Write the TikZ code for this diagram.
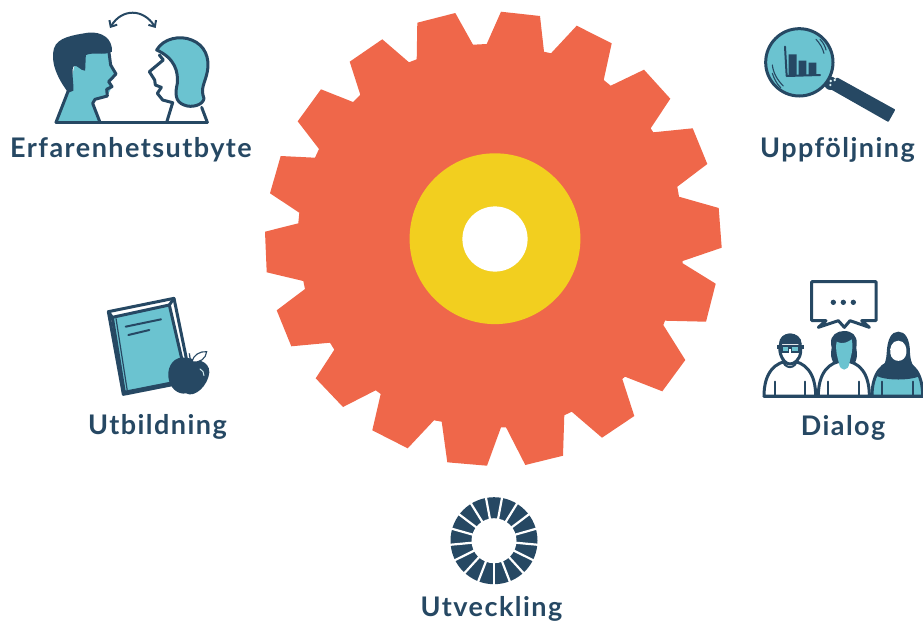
\documentclass[tikz,border=0pt]{standalone}
\usepackage{fontspec}
\usetikzlibrary{arrows.meta}
\setmainfont{Lato}[BoldFont={Lato Bold},BoldFeatures={LetterSpace=5.4}]
\definecolor{navy}{HTML}{264863}
\definecolor{teal}{HTML}{6BC3D0}
\definecolor{gearc}{HTML}{EF674A}
\definecolor{hub}{HTML}{F2CF1F}
\tikzset{
 lab/.style={anchor=base,text=navy,font=\fontsize{27}{31}\selectfont\bfseries,inner sep=0pt},
 ico/.style={draw=navy,line width=3pt,line join=round,line cap=round},
 thin ico/.style={draw=navy,line width=2pt,line join=round,line cap=round},
}
\begin{document}
\begin{tikzpicture}[x=1pt,y=-1pt]
\useasboundingbox (0,0) rectangle (923,622);
% gear
\fill[gearc] (501,11.7)--(540,16)--(544,51.7)--(551,53.3)--(576.7,25.7)--(611.7,43.3)--(603.7,80)--(610.7,85.7)--(644,69.7)--(670.3,98.7)--(650.7,128.3)--(653.3,132.3)--(692.7,128.3)--(707.3,164)--(677.3,186.7)--(679,196.7)--(718.7,208)--(721.7,247.7)--(682.7,261)--(682.7,263.3)--(715.7,283.7)--(706,321.7)--(665,320.7)--(663.3,325)--(685.3,360)--(662.3,391.3)--(625,376.7)--(622.3,379)--(634.3,416)--(602,437.7)--(571.7,411.7)--(564.3,415.3)--(563,455.7)--(525.3,465)--(506,427.3)--(501,427.3)--(487,465.7)--(447.3,462.3)--(441.7,421.7)--(434,420.3)--(407.7,448.3)--(372.3,430.3)--(380.7,394)--(375.7,390.3)--(343,407)--(315.7,378.3)--(334.3,349.7)--(330,342.7)--(291.3,346.3)--(276.7,310.3)--(305,289)--(303.3,281)--(266.7,272.3)--(265,231.7)--(298.3,223.3)--(299.3,212.7)--(270,193.3)--(280.7,156)--(315,157.7)--(319,149)--(297.7,121.3)--(321,89.3)--(353,102)--(360.3,94.7)--(349.7,61.7)--(382.3,39.3)--(409,62.3)--(416.7,59.3)--(417.3,22.7)--(455.3,13)--(473,44.7)--(486.7,44)--cycle;
\fill[hub] (495,238.7) circle (85.4);
\fill[white] (495,239) circle (32.6);
% faces
\begin{scope}[scale=1/3]
\fill[teal] (172,367)--(205,275)--(225,190)--(260,150)--(325,150)--(332,195)--(348,222)--(328,245)--(335,262)--(322,288)--(285,298)--(278,310)--(300,367)--cycle;
\draw[ico] (168,367)--(205,272) (326,150)--(332,195)--(348,222)--(326,245)--(336,260)--(320,268)--(322,288)--(285,298)--(278,310)--(300,367);
\fill[navy] (205,278) .. controls (172,235) and (150,185) .. (162,145) .. controls (172,112) and (220,105) .. (265,98) .. controls (305,94) and (338,115) .. (336,155) .. controls (310,168) and (280,155) .. (258,165) .. controls (255,180) and (258,195) .. (255,212) .. controls (240,212) and (235,195) .. (222,198) .. controls (212,205) and (222,250) .. (220,272) -- cycle;
\draw[ico,fill=teal] (470,150) .. controls (490,115) and (540,105) .. (575,120) .. controls (615,135) and (630,175) .. (622,215) .. controls (615,250) and (600,265) .. (612,295) .. controls (610,315) and (575,325) .. (552,315) .. controls (525,305) and (525,280) .. (532,250) .. controls (535,215) and (525,175) .. (470,150) -- cycle;
\draw[ico] (478,165)--(490,180)--(448,215)--(464,240)--(466,255)--(484,262)--(472,280)--(488,300)--(518,308)--(500,367);
\draw[ico] (605,322)--(622,367);
\draw[ico] (168,367)--(622,367);
\draw[draw=navy,line width=2pt,{Straight Barb[length=5pt,width=9pt]}-{Straight Barb[length=5pt,width=9pt]}] (330,84) .. controls (365,25) and (430,25) .. (467,84);
\end{scope}
% magnifier
\begin{scope}[shift={(740,10)},scale=1/3]
\fill[navy,draw=navy,line width=2pt,line join=round] (292,206)--(462,300)--(444,332)--(268,232)--cycle;
\fill[navy] (272,220) circle (20);
\draw[ico,fill=teal] (178,157) circle (101);
\fill[white!75!teal] (272,213) circle (4) (284,210) circle (4) (271,225) circle (4);
\draw[thin ico] (135,110)--(140,198)--(240,195);
\fill[navy] (146,133) rectangle (170,195) (176,152) rectangle (199,195) (206,158) rectangle (229,195);
\draw[navy,line width=1.1pt,line cap=round] (228,88) .. controls (240,100) and (248,115) .. (252,130) (240,88) .. controls (250,98) and (256,110) .. (258,120);
\draw[navy,line width=1.1pt,line cap=round] (97,165) .. controls (100,190) and (112,210) .. (130,228) (97,190) .. controls (102,205) and (110,222) .. (122,233);
\end{scope}
% dialog
\begin{scope}[shift={(750,270)},scale=1/3]
\draw[ico,fill=white] (185,35)--(378,35)--(378,152)--(335,152)--(358,172)--(300,152)--(283,172)--(265,152)--(205,172)--(228,152)--(185,152)--cycle;
\fill[navy] (250,97) circle (8) (280,97) circle (8) (310,97) circle (8);
% person 1
\draw[ico,fill=white] (42,378) .. controls (42,308) and (75,275) .. (120,272) .. controls (165,275) and (197,308) .. (197,378) -- cycle;
\draw[thin ico] (75,335)--(75,375) (165,335)--(165,375);
\draw[thin ico,fill=white] (97,265) .. controls (100,300) and (140,300) .. (142,265);
\draw[ico,fill=white] (120,195) .. controls (95,195) and (88,225) .. (90,245) .. controls (95,270) and (108,282) .. (120,282) .. controls (132,282) and (150,270) .. (152,245) .. controls (154,225) and (145,195) .. (120,195) -- cycle;
\fill[navy] (88,222) .. controls (85,180) and (155,180) .. (155,222) -- (140,222) -- (100,222) -- cycle;
\fill[navy] (80,226) rectangle (162,236);
\fill[teal] (96,230) rectangle (116,246) (125,230) rectangle (145,246);
\draw[navy,line width=1.4pt] (96,230) rectangle (116,246) (125,230) rectangle (145,246);
% person 2
\draw[ico,fill=white] (205,378) .. controls (205,308) and (237,275) .. (282,272) .. controls (327,275) and (358,308) .. (358,378) -- cycle;
\draw[thin ico] (235,335)--(235,375) (328,335)--(328,375);
\fill[navy] (250,278) .. controls (235,250) and (250,235) .. (243,222) .. controls (240,195) and (262,183) .. (282,183) .. controls (305,183) and (322,195) .. (320,222) .. controls (315,240) and (328,250) .. (315,278) -- cycle;
\fill[teal] (260,215) .. controls (280,225) and (295,215) .. (305,208) .. controls (312,240) and (300,265) .. (298,280) .. controls (295,305) and (270,305) .. (267,280) .. controls (262,260) and (255,240) .. (260,215) -- cycle;
% person 3
\draw[ico,fill=teal] (366,378) .. controls (366,308) and (398,275) .. (443,272) .. controls (488,275) and (518,308) .. (518,378) -- cycle;
\draw[thin ico] (395,335)--(395,375) (488,335)--(488,375);
\fill[navy] (380,318) .. controls (395,295) and (408,285) .. (410,250) .. controls (412,205) and (425,185) .. (445,185) .. controls (465,185) and (480,205) .. (480,250) .. controls (482,285) and (495,295) .. (510,318) .. controls (480,332) and (410,332) .. (380,318) -- cycle;
\fill[white] (445,212) .. controls (425,212) and (418,235) .. (421,250) .. controls (425,280) and (465,280) .. (469,250) .. controls (472,235) and (465,212) .. (445,212) -- cycle;
\draw[ico] (42,378)--(518,378);
\end{scope}
% book
\begin{scope}[shift={(80,285)},scale=1/3]
\draw[ico,fill=white] (85,80)--(282,40)--(333,288)--(130,328)--cycle;
\draw[ico,fill=teal] (97,97)--(268,60)--(320,285)--(133,322)--cycle;
\draw[ico] (85,80)--(97,97) (268,60)--(282,40);
\draw[navy,line width=1.2pt] (108,100)--(142,318);
\draw[thin ico] (137,125)--(243,103) (145,150)--(208,135);
\fill[navy] (318,218) .. controls (285,212) and (262,240) .. (265,275) .. controls (268,310) and (295,330) .. (318,325) .. controls (345,340) and (385,300) .. (388,262) .. controls (388,225) and (350,225) .. (318,218) -- cycle;
\draw[navy,fill=white,line width=1.1pt] (336,230) .. controls (340,210) and (360,198) .. (380,200) .. controls (378,220) and (360,235) .. (336,230) -- cycle;
\draw[navy,line width=1.3pt] (328,205)--(332,232);
\draw[white!70!teal,line width=1pt,line cap=round] (360,252) .. controls (368,256) and (372,262) .. (372,272);
\end{scope}
% ring
\fill[navy] (494,540.7) circle (43.5);
\foreach \i in {0,...,16}{
  \draw[white,line width=2.2pt] (494,540.7) -- ++({-90+360/34+\i*360/17}:46);
}
\fill[white] (494,540.7) circle (22.5);
% labels
\node[lab] (erf) at (131,157) {Erfarenhetsutbyte};
\node[lab] (upp) at (837.5,157) {Uppföljning};
\node[lab] (dia) at (843,435) {Dialog};
\node[lab] (utb) at (157.5,434) {Utbildning};
\node[lab] (utv) at (491.5,616.5) {Utveckling};
\end{tikzpicture}
\end{document}
